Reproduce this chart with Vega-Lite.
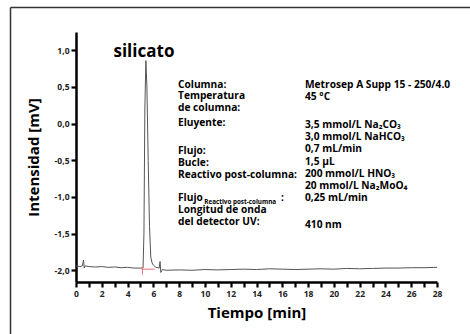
{
  "$schema": "https://vega.github.io/schema/vega-lite/v6.json",
  "width": 361,
  "height": 250,
  "autosize": "none",
  "padding": {"left": 76, "top": 32, "right": 33, "bottom": 52},
  "background": "white",
  "config": {
    "view": {"stroke": null},
    "font": "Open Sans",
    "text": {"font": "Open Sans", "fontWeight": "bold", "fontSize": 10.2, "color": "#000", "align": "left", "baseline": "alphabetic"},
    "axis": {
      "domainColor": "#000", "domainWidth": 2.5, "tickColor": "#000", "tickWidth": 2.2, "tickSize": 5,
      "labelFont": "Open Sans", "labelFontWeight": "bold", "labelFontSize": 8.5, "labelColor": "#222",
      "titleFont": "Open Sans", "titleFontWeight": "bold", "titleFontSize": 15, "titleColor": "#000",
      "grid": false, "labelPadding": 2, "labelOverlap": false
    }
  },
  "data": {"values": [
    {"t": 0.0, "mv": -1.94}, {"t": 0.3, "mv": -1.95}, {"t": 0.5, "mv": -1.94}, {"t": 0.58, "mv": -1.86},
    {"t": 0.64, "mv": -1.97}, {"t": 0.72, "mv": -1.94}, {"t": 1.0, "mv": -1.95}, {"t": 1.5, "mv": -1.955},
    {"t": 2.0, "mv": -1.95}, {"t": 2.5, "mv": -1.96}, {"t": 3.0, "mv": -1.955}, {"t": 3.5, "mv": -1.965},
    {"t": 4.0, "mv": -1.96}, {"t": 4.5, "mv": -1.97}, {"t": 5.0, "mv": -1.97}, {"t": 5.2, "mv": -1.97},
    {"t": 5.27, "mv": -1.5}, {"t": 5.34, "mv": 0.2}, {"t": 5.42, "mv": 0.86}, {"t": 5.5, "mv": 0.5},
    {"t": 5.6, "mv": -0.5}, {"t": 5.7, "mv": -1.4}, {"t": 5.8, "mv": -1.82}, {"t": 5.9, "mv": -1.9},
    {"t": 6.0, "mv": -1.93}, {"t": 6.2, "mv": -1.96}, {"t": 6.45, "mv": -1.97}, {"t": 6.52, "mv": -1.88},
    {"t": 6.58, "mv": -2.03}, {"t": 6.7, "mv": -1.99}, {"t": 7.0, "mv": -2.0}, {"t": 8.0, "mv": -1.995},
    {"t": 9.0, "mv": -2.0}, {"t": 10.0, "mv": -1.99}, {"t": 11.0, "mv": -1.995}, {"t": 12.0, "mv": -1.99},
    {"t": 13.0, "mv": -1.985}, {"t": 14.0, "mv": -1.99}, {"t": 15.0, "mv": -1.98}, {"t": 16.0, "mv": -1.985},
    {"t": 17.0, "mv": -1.99}, {"t": 18.0, "mv": -1.985}, {"t": 19.0, "mv": -1.98}, {"t": 20.0, "mv": -1.985},
    {"t": 21.0, "mv": -1.975}, {"t": 22.0, "mv": -1.98}, {"t": 23.0, "mv": -1.975}, {"t": 24.0, "mv": -1.97},
    {"t": 25.0, "mv": -1.97}, {"t": 26.0, "mv": -1.965}, {"t": 27.0, "mv": -1.965}, {"t": 28.0, "mv": -1.96}
  ]},
  "resolve": {"axis": {"x": "independent"}},
  "layer": [
    {
      "mark": {"type": "line", "color": "#555", "strokeWidth": 1},
      "encoding": {
        "x": {"field": "t", "type": "quantitative", "scale": {"domain": [0, 28], "nice": false, "zero": false},
          "axis": {"orient": "bottom", "title": "Tiempo [min]", "titlePadding": 8, "labelOverlap": false, "labelFlush": false,
            "values": [0,2,4,6,8,10,12,14,16,18,20,22,24,26,28], "format": "d"}},
        "y": {"field": "mv", "type": "quantitative", "scale": {"domain": [-2.16, 1.25], "nice": false, "zero": false},
          "axis": {"title": "Intensidad [mV]", "titlePadding": 13, "labelOverlap": false, "values": [-2, -1.5, -1, -0.5, 0, 0.5, 1],
            "labelExpr": "replace(replace(format(datum.value, '.1f'), '.', ','), '\u2212', '-')"}}
      }
    },
    {
      "data": {"values": [{}]},
      "mark": {"type": "rule", "color": "#f07070", "strokeWidth": 1},
      "encoding": {
        "x": {"datum": 5.1, "type": "quantitative",
          "axis": {"orient": "bottom", "title": null, "labels": false, "domain": false, "offset": 0,
            "values": [1,3,5,7,9,11,13,15,17,19,21,23,25,27]}},
        "x2": {"datum": 6.1}, "y": {"datum": -1.985}}
    },
    {
      "data": {"values": [{}]},
      "mark": {"type": "rule", "color": "#f07070", "strokeWidth": 1},
      "encoding": {"x": {"datum": 5.15, "axis": null}, "y": {"datum": -2.06}, "y2": {"datum": -1.95}}
    },
    {
      "data": {"values": [{}]},
      "mark": {"type": "rule", "color": "#333", "strokeWidth": 1.5, "clip": false},
      "encoding": {"x": {"datum": -5.08, "axis": null}, "y": {"datum": 1.584}, "y2": {"datum": -3.5}}
    },
    {
      "data": {"values": [{}]},
      "mark": {"type": "rule", "color": "#333", "strokeWidth": 1.5, "clip": false},
      "encoding": {"x": {"datum": -5.08, "axis": null}, "x2": {"datum": 40}, "y": {"datum": 1.584}}
    },
    {
      "data": {"values": [{}]},
      "mark": {"type": "text", "text": "silicato", "fontSize": 17, "align": "center"},
      "encoding": {"x": {"datum": 5.27, "axis": null}, "y": {"datum": 0.909}}
    },
    {
      "data": {"values": [{}]},
      "mark": {"type": "text", "text": ["Columna:", "Temperatura", "de columna:"], "lineHeight": 11.5},
      "encoding": {"x": {"datum": 7.91, "axis": null}, "y": {"datum": 0.49}}
    },
    {
      "data": {"values": [{}]},
      "mark": {"type": "text", "text": "Eluyente:"},
      "encoding": {"x": {"datum": 7.91, "axis": null}, "y": {"datum": -0.03}}
    },
    {
      "data": {"values": [{}]},
      "mark": {"type": "text", "text": ["Flujo:", "Bucle:", "Reactivo post-columna:"], "lineHeight": 12},
      "encoding": {"x": {"datum": 7.91, "axis": null}, "y": {"datum": -0.42}}
    },
    {
      "data": {"values": [{}]},
      "mark": {"type": "text", "text": "Flujo"},
      "encoding": {"x": {"datum": 7.91, "axis": null}, "y": {"datum": -1.06}}
    },
    {
      "data": {"values": [{}]},
      "mark": {"type": "text", "text": "Reactivo post-columna", "fontSize": 6.3},
      "encoding": {"x": {"datum": 9.95, "axis": null}, "y": {"datum": -1.095}}
    },
    {
      "data": {"values": [{}]},
      "mark": {"type": "text", "text": ":"},
      "encoding": {"x": {"datum": 15.9, "axis": null}, "y": {"datum": -1.06}}
    },
    {
      "data": {"values": [{}]},
      "mark": {"type": "text", "text": ["Longitud de onda", "del detector UV:"], "lineHeight": 11.5},
      "encoding": {"x": {"datum": 7.91, "axis": null}, "y": {"datum": -1.22}}
    },
    {
      "data": {"values": [{}]},
      "mark": {"type": "text", "text": ["Metrosep A Supp 15 - 250/4.0", "45 °C"], "lineHeight": 12},
      "encoding": {"x": {"datum": 17.76, "axis": null}, "y": {"datum": 0.49}}
    },
    {
      "data": {"values": [{}]},
      "mark": {"type": "text", "text": ["3,5 mmol/L Na₂CO₃", "3,0 mmol/L NaHCO₃", "0,7 mL/min", "1,5 µL", "200 mmol/L HNO₃", "20 mmol/L Na₂MoO₄", "0,25 mL/min"], "lineHeight": 12.2},
      "encoding": {"x": {"datum": 17.76, "axis": null}, "y": {"datum": -0.06}}
    },
    {
      "data": {"values": [{}]},
      "mark": {"type": "text", "text": "410 nm"},
      "encoding": {"x": {"datum": 17.76, "axis": null}, "y": {"datum": -1.42}}
    }
  ]
}
